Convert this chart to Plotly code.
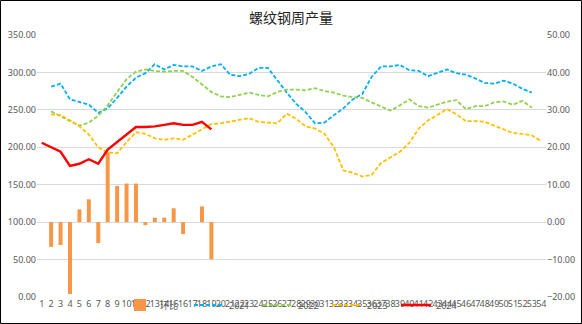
import plotly.graph_objects as go

weeks = list(range(1, 55))
tick_labels = [str(w) for w in weeks]

# 2021 (blue), weeks 2-53
s2021 = [None, 281, 285, 264, 261, 257, 246, 252, 266, 281, 293, 299, 311, 304, 310, 308, 308, 302,
         308, 311, 297, 295, 298, 306, 306, 289, 273, 258, 247, 232, 233, 243, 252, 264, 271, 294,
         308, 308, 310, 303, 302, 295, 300, 304, 299, 297, 292, 286, 285, 289, 285, 278, 273, None]
# 2022 (green), weeks 2-53
s2022 = [None, 248, 241, 235, 229, 233, 242, 256, 274, 291, 301, 304, 302, 301, 302, 302, 294, 284,
         274, 268, 267, 270, 273, 270, 268, 274, 277, 277, 276, 279, 275, 273, 269, 267, 266, 260,
         255, 249, 256, 264, 255, 253, 257, 261, 263, 251, 255, 255, 260, 261, 257, 262, 253, None]
# 2023 (yellow), weeks 2-54
s2023 = [None, 244, 243, 236, 228, 217, 200, 193, 192, 207, 220, 218, 212, 210, 212, 210, 217, 224,
         231, 232, 234, 237, 239, 234, 233, 232, 245, 238, 228, 225, 218, 200, 169, 166, 161, 163,
         179, 187, 194, 206, 225, 236, 244, 251, 244, 235, 235, 234, 229, 224, 219, 218, 216, 208]
# 2024 (red), weeks 1-19
s2024 = [206, 200, 194, 175, 178, 184, 178, 197, 207, 217, 227, 227, 228, 230, 232, 230, 230, 234, 224]
# week-on-week change (bars, right axis), weeks 2-19
change = [None, -6.6, -6.1, -19.2, 3.4, 6.1, -5.6, 18.7, 9.7, 10.3, 10.3, -0.8, 1.2, 1.2, 3.7,
          -3.2, 0, 4.2, -9.9]

series_names = ["环比", "2021", "2022", "2023", "2024"]

FONT = "Noto Sans, Noto Sans CJK SC, sans-serif"
GREY = "#595959"

fig = go.Figure()
fig.add_trace(go.Bar(x=weeks[:len(change)], y=change, name=series_names[0],
                     marker=dict(color="#F79646", line=dict(width=0)), width=0.42, yaxis="y"))
line_specs = [
    (s2021, series_names[1], "#00B0F0", "4px,2px", 1.8),
    (s2022, series_names[2], "#92D050", "4px,2px", 1.8),
    (s2023, series_names[3], "#FFC000", "4px,2px", 1.8),
    (s2024, series_names[4], "#FF0000", "solid", 2.4),
]
for data, nm, col, dash, w in line_specs:
    fig.add_trace(go.Scatter(x=weeks[:len(data)], y=data, name=nm, mode="lines",
                             line=dict(color=col, dash=dash, width=w), yaxis="y2",
                             connectgaps=False))

L, R, T, B = 37, 36, 35, 27
W, H = 582, 324
pw, ph = W - L - R, H - T - B

fig.update_layout(
    width=W, height=H,
    margin=dict(l=L, r=R, t=T, b=B, autoexpand=False),
    paper_bgcolor="white", plot_bgcolor="white",
    font=dict(family=FONT, size=9, color=GREY),
    title=dict(text="螺纹钢周产量", x=0.5, xanchor="center", y=1 - 18 / H, yanchor="middle",
               font=dict(family="Noto Sans CJK SC", size=14, color="#222222")),
    xaxis=dict(range=[0.5, 54.5], tickmode="array", tickvals=weeks, ticktext=tick_labels,
               showgrid=False, zeroline=False, showline=False, ticks="",
               tickfont=dict(size=9, color=GREY), tickangle=0, automargin=False),
    yaxis=dict(side="right", range=[-20, 50], dtick=10, tickformat=".2f",
               showgrid=True, gridcolor="#D9D9D9", gridwidth=1, zeroline=False,
               showline=False, ticks="", tickfont=dict(size=9, color=GREY), automargin=False),
    yaxis2=dict(side="left", overlaying="y", range=[0, 350], dtick=50, tickformat=".2f",
                showgrid=False, zeroline=False, showline=False, ticks="",
                tickfont=dict(size=9, color=GREY), automargin=False),
    legend=dict(orientation="h", x=(120 - L) / pw, xanchor="left", y=(H - B - 305) / ph,
                yanchor="middle", bgcolor="rgba(0,0,0,0)", font=dict(size=9, color=GREY),
                itemwidth=30, entrywidth=24, entrywidthmode="pixels", traceorder="normal"),
    bargap=0.55,
    showlegend=True,
)

fig.add_shape(type="rect", xref="paper", yref="paper",
              x0=(0.5 - L) / pw, x1=(W - 0.5 - L) / pw,
              y0=(H - B - (H - 0.5)) / ph, y1=(H - B - 0.5) / ph,
              line=dict(color="#000000", width=1), fillcolor="rgba(0,0,0,0)", layer="above")

fig.write_html("out.html")
